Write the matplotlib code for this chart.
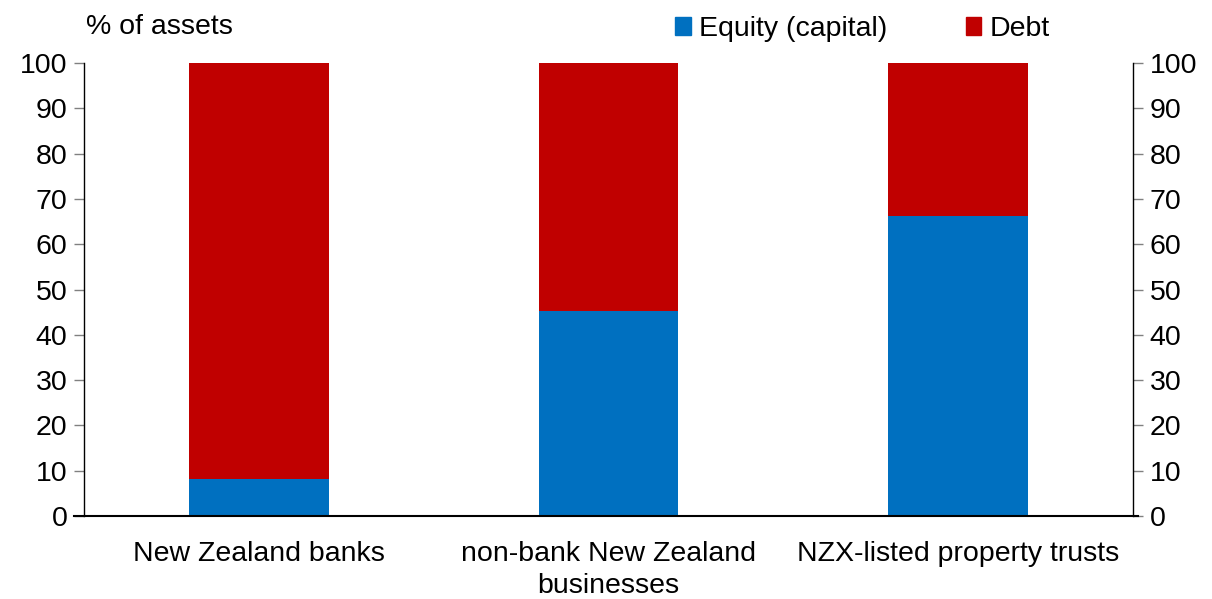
import numpy as np
import matplotlib.pyplot as plt
from matplotlib.patches import Patch

plt.rcParams['font.family'] = ['Liberation Sans', 'DejaVu Sans']

categories = ["New Zealand banks", "non-bank New Zealand\nbusinesses", "NZX-listed property trusts"]
equity = [8.2, 45.3, 66.2]
debt = [100 - e for e in equity]
yticks = list(range(0, 101, 10))

blue = "#0070C0"
red = "#C00000"
fs = 20.5

fig = plt.figure(figsize=(12.12, 5.99), dpi=100)
ax = fig.add_axes([84/1212, 1 - 516/599, (1133-84)/1212, (516-63)/599])

x = np.arange(len(categories))
ax.bar(x, equity, width=0.4, color=blue)
ax.bar(x, debt, width=0.4, bottom=equity, color=red)

ax.set_xlim(-0.5, 2.5)
ax.set_ylim(0, 100)
ax.set_yticks(yticks)
ax.set_xticks(x)
ax.set_xticklabels(categories, fontsize=fs, linespacing=1.3)
ax.tick_params(axis='x', length=0, pad=18)
ax.tick_params(axis='y', labelsize=fs, direction='out', length=7, width=1,
               color='#808080', left=True, right=True, labelleft=True, labelright=True, pad=5)
ax.spines['top'].set_visible(False)
for s in ['left', 'right']:
    ax.spines[s].set_color('black')
    ax.spines[s].set_linewidth(1)
ax.spines['bottom'].set_linewidth(1.5)
ax.spines['bottom'].set_bounds(-0.53, 2.515)

fig.text(86/1212, 1 - 27/599, "% of assets", fontsize=fs, va='center', ha='left')

handles = [Patch(color=blue, label="Equity (capital)"), Patch(color=red, label="Debt")]
fig.legend(handles=handles, loc='center left', bbox_to_anchor=(675/1212, 1 - 29/599),
           ncol=2, frameon=False, fontsize=fs, handlelength=0.55, handleheight=0.55,
           handletextpad=0.3, columnspacing=2.75, borderaxespad=0, borderpad=0)

fig.savefig("out.png", dpi=100)
